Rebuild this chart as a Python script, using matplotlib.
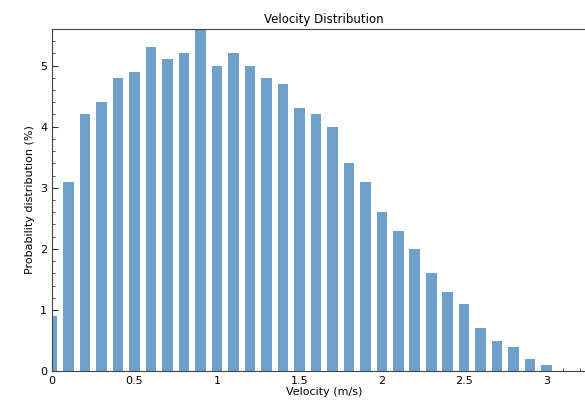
import numpy as np
import matplotlib
matplotlib.use("Agg")
import matplotlib.pyplot as plt
from matplotlib.ticker import MultipleLocator

# velocity bins (m/s) and probability (%)
velocity = [0.0, 0.1, 0.2, 0.3, 0.4, 0.5, 0.6, 0.7, 0.8, 0.9,
            1.0, 1.1, 1.2, 1.3, 1.4, 1.5, 1.6, 1.7, 1.8, 1.9,
            2.0, 2.1, 2.2, 2.3, 2.4, 2.5, 2.6, 2.7, 2.8, 2.9, 3.0]
probability = [0.9, 3.1, 4.2, 4.4, 4.8, 4.9, 5.3, 5.1, 5.2, 5.6,
               5.0, 5.2, 5.0, 4.8, 4.7, 4.3, 4.2, 4.0, 3.4, 3.1,
               2.6, 2.3, 2.0, 1.6, 1.3, 1.1, 0.7, 0.5, 0.4, 0.2, 0.1]
xticks = [0, 0.5, 1, 1.5, 2, 2.5, 3]
xticklabels = ["0", "0.5", "1", "1.5", "2", "2.5", "3"]

fig = plt.figure(figsize=(5.85, 4.07), dpi=100)
ax = fig.add_axes([0.089, 0.088, 0.93, 0.841])

ax.bar(velocity, probability, width=0.064, color="#6fa0cb", zorder=2)

ax.set_xlim(0, 3.3)
ax.set_ylim(0, 5.6)
ax.set_xticks(xticks)
ax.set_xticklabels(xticklabels)
ax.set_yticks([0, 1, 2, 3, 4, 5])
ax.xaxis.set_minor_locator(MultipleLocator(0.1))
ax.yaxis.set_minor_locator(MultipleLocator(0.2))
ax.tick_params(which="both", direction="in", labelsize=8, color="#333333")
ax.tick_params(which="major", length=4)
ax.tick_params(which="minor", length=2)

for s in ax.spines.values():
    s.set_color("#444444")

ax.set_title("Velocity Distribution", fontsize=8.5, pad=4)
ax.set_xlabel("Velocity (m/s)", fontsize=8, labelpad=1)
ax.set_ylabel("Probability distribution (%)", fontsize=8, labelpad=4)

fig.savefig("out.png", dpi=100)
